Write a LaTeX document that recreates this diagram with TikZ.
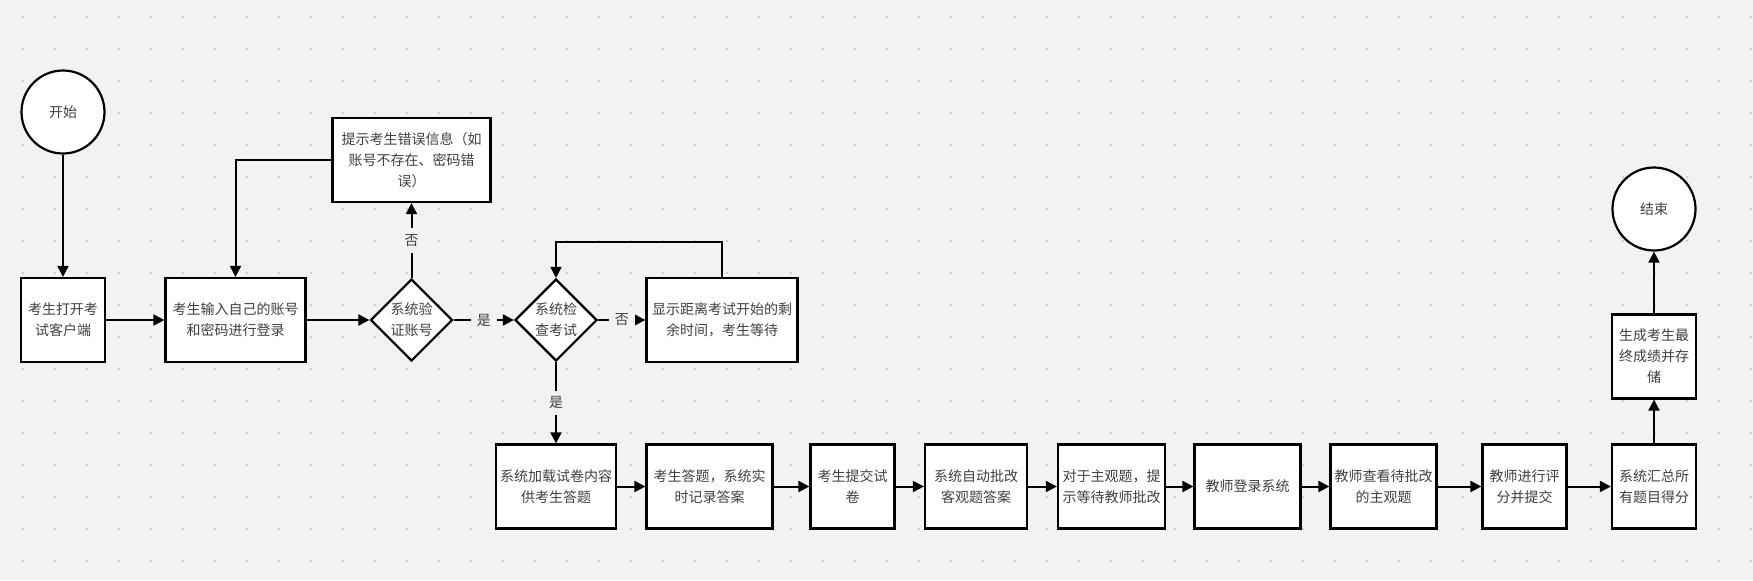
\documentclass[tikz,border=0pt]{standalone}
\usepackage{fontspec}
\setmainfont{Noto Sans CJK SC}
\usetikzlibrary{arrows.meta,shapes.geometric}
\definecolor{bgc}{HTML}{F2F2F4}
\definecolor{dotc}{HTML}{CDCDD2}
\definecolor{txtc}{HTML}{404040}

\begin{document}
\begin{tikzpicture}[
    x=0.5pt, y=-0.5pt,
    box/.style={draw, line width=1.1pt, fill=white, minimum height=42pt, inner sep=1pt, align=center, font=\fontsize{7pt}{10.5pt}\selectfont, text=txtc},
    dec/.style={box, diamond, minimum width=41pt, minimum height=41pt, inner sep=0pt},
    term/.style={box, circle, minimum size=41.5pt},
    arr/.style={-{Triangle[length=5.5pt,width=5.5pt]}, line width=1pt},
    lbl/.style={fill=bgc, inner sep=3pt, font=\fontsize{7pt}{10.5pt}\selectfont, text=txtc}
]
\fill[bgc] (0,0) rectangle (1753,580);
\foreach \i in {0,...,54}
  \foreach \j in {0,...,17}
    \fill[dotc] ({21.7+32*\i},{15.7+32*\j}) rectangle ++(2,2);
\useasboundingbox (0,0) rectangle (1753,580);

\node[term] (start) at (63,112) {开始};
\node[box, minimum width=42pt] (open) at (63,320) {考生打开考\\试客户端};
\node[box, minimum width=70pt] (login) at (235.5,320) {考生输入自己的账号\\和密码进行登录};
\node[dec] (verify) at (411.5,320) {系统验\\证账号};
\node[box, minimum width=79pt] (err) at (411.5,160) {提示考生错误信息（如\\账号不存在、密码错\\误）};
\node[dec] (check) at (556,320) {系统检\\查考试};
\node[box, minimum width=75.5pt] (wait) at (722,320) {显示距离考试开始的剩\\余时间，考生等待};

\node[box, minimum width=60pt] (load) at (556,486.5) {系统加载试卷内容\\供考生答题};
\node[box, minimum width=63pt] (answer) at (709.5,486.5) {考生答题，系统实\\时记录答案};
\node[box, minimum width=42pt] (submit) at (852.5,486.5) {考生提交试\\卷};
\node[box, minimum width=51pt] (auto) at (976,486.5) {系统自动批改\\客观题答案};
\node[box, minimum width=53.5pt] (hint) at (1111.5,486.5) {对于主观题，提\\示等待教师批改};
\node[box, minimum width=53pt] (tlogin) at (1247.5,486.5) {教师登录系统};
\node[box, minimum width=53pt] (view) at (1383.5,486.5) {教师查看待批改\\的主观题};
\node[box, minimum width=42pt] (grade) at (1524.5,486.5) {教师进行评\\分并提交};
\node[box, minimum width=42pt] (sum) at (1654,486.5) {系统汇总所\\有题目得分};
\node[box, minimum width=42pt] (final) at (1654,356.5) {生成考生最\\终成绩并存\\储};
\node[term] (end) at (1654,209) {结束};

\draw[arr] (start) -- (open);
\draw[arr] (open) -- (login);
\draw[arr] (login) -- (verify);
\draw[arr] (verify) -- node[lbl] {否} (err);
\draw[arr] (err.west) -| (login.north);
\draw[arr] (verify) -- node[lbl] {是} (check);
\draw[arr] (check) -- node[lbl] {否} (wait);
\draw[arr] (wait.north) -- ++(0,-35) -| (check.north);
\draw[arr] (check) -- node[lbl] {是} (load);
\draw[arr] (load) -- (answer);
\draw[arr] (answer) -- (submit);
\draw[arr] (submit) -- (auto);
\draw[arr] (auto) -- (hint);
\draw[arr] (hint) -- (tlogin);
\draw[arr] (tlogin) -- (view);
\draw[arr] (view) -- (grade);
\draw[arr] (grade) -- (sum);
\draw[arr] (sum) -- (final);
\draw[arr] (final) -- (end);
\end{tikzpicture}
\end{document}
